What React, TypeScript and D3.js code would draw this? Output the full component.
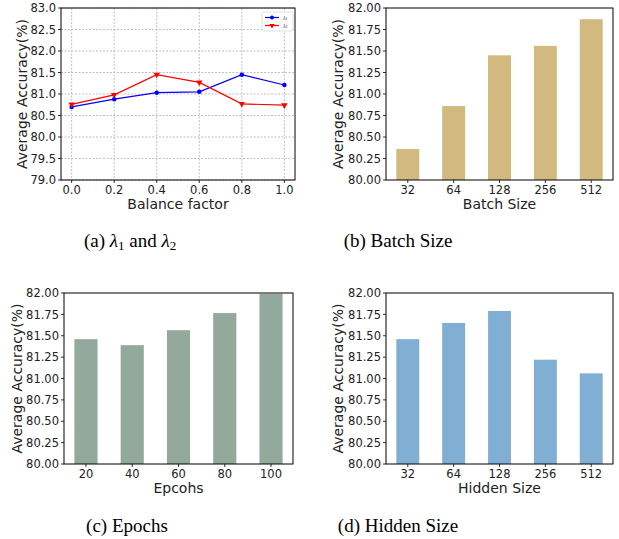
import React, { useEffect, useRef } from "react";
import * as d3 from "d3";

// panel (a): balance factor sweep
const balance = [0.0, 0.2, 0.4, 0.6, 0.8, 1.0];
const lambda1 = [80.7, 80.88, 81.03, 81.05, 81.45, 81.21];
const lambda2 = [80.76, 80.98, 81.45, 81.27, 80.77, 80.74];

// panels (b)-(d): bar charts
const batchSizes = ["32", "64", "128", "256", "512"];
const batchAcc = [80.36, 80.86, 81.45, 81.56, 81.87];
const epochs = ["20", "40", "60", "80", "100"];
const epochAcc = [81.46, 81.39, 81.565, 81.765, 81.99];
const hiddenSizes = ["32", "64", "128", "256", "512"];
const hiddenAcc = [81.46, 81.65, 81.79, 81.22, 81.06];

const barTicks = [80, 80.25, 80.5, 80.75, 81, 81.25, 81.5, 81.75, 82];
const lineTicks = [79, 79.5, 80, 80.5, 81, 81.5, 82, 82.5, 83];

const FONT = "DejaVu Sans, sans-serif";

type Frame = { left: number; top: number; right: number; bottom: number; ylabX: number };

const App = () => {
  const svgRef = useRef<SVGSVGElement>(null);

  useEffect(() => {
    const svg = d3.select(svgRef.current);
    svg.selectAll("*").remove();

    const yAxisStuff = (g: any, f: Frame, y: any, ticks: number[], fmt: string) => {
      ticks.forEach((t) => {
        g.append("line")
          .attr("x1", f.left - 3)
          .attr("x2", f.left)
          .attr("y1", y(t))
          .attr("y2", y(t))
          .attr("stroke", "#000")
          .attr("stroke-width", 0.8);
        g.append("text")
          .attr("x", f.left - 5)
          .attr("y", y(t))
          .attr("dy", "0.36em")
          .attr("text-anchor", "end")
          .attr("font-family", FONT)
          .attr("font-size", 11.5)
          .attr("fill", "#222")
          .text(d3.format(fmt)(t));
      });
      g.append("text")
        .attr("transform", `translate(${f.ylabX},${(f.top + f.bottom) / 2}) rotate(-90)`)
        .attr("text-anchor", "middle")
        .attr("dy", "0.36em")
        .attr("font-family", FONT)
        .attr("font-size", 14)
        .attr("fill", "#222")
        .text("Average Accuracy(%)");
    };

    const frameRect = (g: any, f: Frame) => {
      g.append("rect")
        .attr("x", f.left)
        .attr("y", f.top)
        .attr("width", f.right - f.left)
        .attr("height", f.bottom - f.top)
        .attr("fill", "none")
        .attr("stroke", "#000")
        .attr("stroke-width", 1);
    };

    const xLabel = (g: any, f: Frame, text: string) => {
      g.append("text")
        .attr("x", (f.left + f.right) / 2)
        .attr("y", f.bottom + 29)
        .attr("text-anchor", "middle")
        .attr("font-family", FONT)
        .attr("font-size", 14)
        .attr("fill", "#222")
        .text(text);
    };

    // ---------- (a) line chart ----------
    const fa: Frame = { left: 61, top: 8, right: 295, bottom: 180, ylabX: 22 };
    const ga = svg.append("g");
    const xa = d3.scaleLinear().domain([-0.05, 1.05]).range([fa.left, fa.right]);
    const ya = d3.scaleLinear().domain([79, 83]).range([fa.bottom, fa.top]);

    // grid
    balance.forEach((b) => {
      ga.append("line")
        .attr("x1", xa(b)).attr("x2", xa(b))
        .attr("y1", fa.top).attr("y2", fa.bottom)
        .attr("stroke", "#b0b0b0").attr("stroke-width", 0.8)
        .attr("stroke-dasharray", "2,1.5");
    });
    lineTicks.forEach((t) => {
      ga.append("line")
        .attr("x1", fa.left).attr("x2", fa.right)
        .attr("y1", ya(t)).attr("y2", ya(t))
        .attr("stroke", "#b0b0b0").attr("stroke-width", 0.8)
        .attr("stroke-dasharray", "2,1.5");
    });

    const line = d3
      .line<number>()
      .x((_, i) => xa(balance[i]))
      .y((d) => ya(d));

    const series = [
      { data: lambda1, color: "#0000ff", sym: d3.symbolCircle, rot: 0 },
      { data: lambda2, color: "#ff0000", sym: d3.symbolTriangle, rot: 180 },
    ];
    series.forEach((s) => {
      ga.append("path")
        .attr("d", line(s.data))
        .attr("fill", "none")
        .attr("stroke", s.color)
        .attr("stroke-width", 1.2);
      ga.selectAll(null)
        .data(s.data)
        .join("path")
        .attr("d", d3.symbol(s.sym, s.sym === d3.symbolCircle ? 16 : 18)())
        .attr("transform", (d: number, i: number) => `translate(${xa(balance[i])},${ya(d)}) rotate(${s.rot})`)
        .attr("fill", s.color);
    });

    frameRect(ga, fa);
    yAxisStuff(ga, fa, ya, lineTicks, ".1f");
    balance.forEach((b) => {
      ga.append("line")
        .attr("x1", xa(b)).attr("x2", xa(b))
        .attr("y1", fa.bottom).attr("y2", fa.bottom + 3)
        .attr("stroke", "#000").attr("stroke-width", 0.8);
      ga.append("text")
        .attr("x", xa(b))
        .attr("y", fa.bottom + 13.5)
        .attr("text-anchor", "middle")
        .attr("font-family", FONT)
        .attr("font-size", 11.5)
        .attr("fill", "#222")
        .text(d3.format(".1f")(b));
    });
    xLabel(ga, fa, "Balance factor");

    // legend
    const lg = ga.append("g").attr("transform", "translate(262,12)");
    lg.append("rect")
      .attr("width", 31).attr("height", 19).attr("rx", 1.5)
      .attr("fill", "#fff").attr("stroke", "#ccc").attr("stroke-width", 0.6);
    series.forEach((s, i) => {
      const yy = 5.5 + i * 8;
      lg.append("line")
        .attr("x1", 3).attr("x2", 17).attr("y1", yy).attr("y2", yy)
        .attr("stroke", s.color).attr("stroke-width", 1.2);
      lg.append("path")
        .attr("d", d3.symbol(s.sym, 12)())
        .attr("transform", `translate(10,${yy}) rotate(${s.rot})`)
        .attr("fill", s.color);
      const t = lg.append("text")
        .attr("x", 21).attr("y", yy).attr("dy", "0.35em")
        .attr("font-family", "Liberation Serif, serif")
        .attr("font-size", 6)
        .attr("font-style", "italic")
        .attr("fill", "#222")
        .text("λ");
      t.append("tspan")
        .attr("font-size", 4).attr("font-style", "normal").attr("dy", "0.2em")
        .text(String(i + 1));
    });

    // ---------- bar charts ----------
    const bars = (f: Frame, cats: string[], vals: number[], color: string, label: string) => {
      const g = svg.append("g");
      const x = d3.scaleBand().domain(cats).range([f.left, f.right]).paddingInner(0.5).paddingOuter(0.225);
      const y = d3.scaleLinear().domain([80, 82]).range([f.bottom, f.top]);
      g.selectAll(null)
        .data(vals)
        .join("rect")
        .attr("x", (_: number, i: number) => x(cats[i])!)
        .attr("width", x.bandwidth())
        .attr("y", (d: number) => y(d))
        .attr("height", (d: number) => y(80) - y(d))
        .attr("fill", color);
      frameRect(g, f);
      yAxisStuff(g, f, y, barTicks, ".2f");
      cats.forEach((c) => {
        const cx = x(c)! + x.bandwidth() / 2;
        g.append("line")
          .attr("x1", cx).attr("x2", cx)
          .attr("y1", f.bottom).attr("y2", f.bottom + 3)
          .attr("stroke", "#000").attr("stroke-width", 0.8);
        g.append("text")
          .attr("x", cx)
          .attr("y", f.bottom + 13.5)
          .attr("text-anchor", "middle")
          .attr("font-family", FONT)
          .attr("font-size", 11.5)
          .attr("fill", "#222")
          .text(c);
      });
      xLabel(g, f, label);
    };

    bars({ left: 386, top: 8, right: 613, bottom: 180, ylabX: 338 }, batchSizes, batchAcc, "#d1b97f", "Batch Size");
    bars({ left: 64, top: 293, right: 293, bottom: 464, ylabX: 17 }, epochs, epochAcc, "#93a99b", "Epcohs");
    bars({ left: 386, top: 293, right: 613, bottom: 464, ylabX: 338 }, hiddenSizes, hiddenAcc, "#80afd3", "Hidden Size");

    // ---------- captions ----------
    const cap = (x: number, y: number) =>
      svg.append("text")
        .attr("x", x).attr("y", y)
        .attr("text-anchor", "middle")
        .attr("font-family", "Liberation Serif, serif")
        .attr("font-size", 19)
        .attr("fill", "#000");

    const ca = cap(130, 247);
    ca.append("tspan").text("(a)  ");
    ca.append("tspan").attr("font-style", "italic").text("λ");
    ca.append("tspan").attr("font-size", 13).attr("dy", 3).text("1");
    ca.append("tspan").attr("dy", -3).text(" and ");
    ca.append("tspan").attr("font-style", "italic").text("λ");
    ca.append("tspan").attr("font-size", 13).attr("dy", 3).text("2");
    cap(398, 247).text("(b)  Batch Size");
    cap(127, 532).text("(c)  Epochs");
    cap(398, 532).text("(d)  Hidden Size");
  }, []);

  return (
    <div style={{ position: "absolute", left: 0, top: 0 }}>
      <svg ref={svgRef} width={619} height={539} style={{ display: "block", background: "#fff" }} />
    </div>
  );
};

export default App;
